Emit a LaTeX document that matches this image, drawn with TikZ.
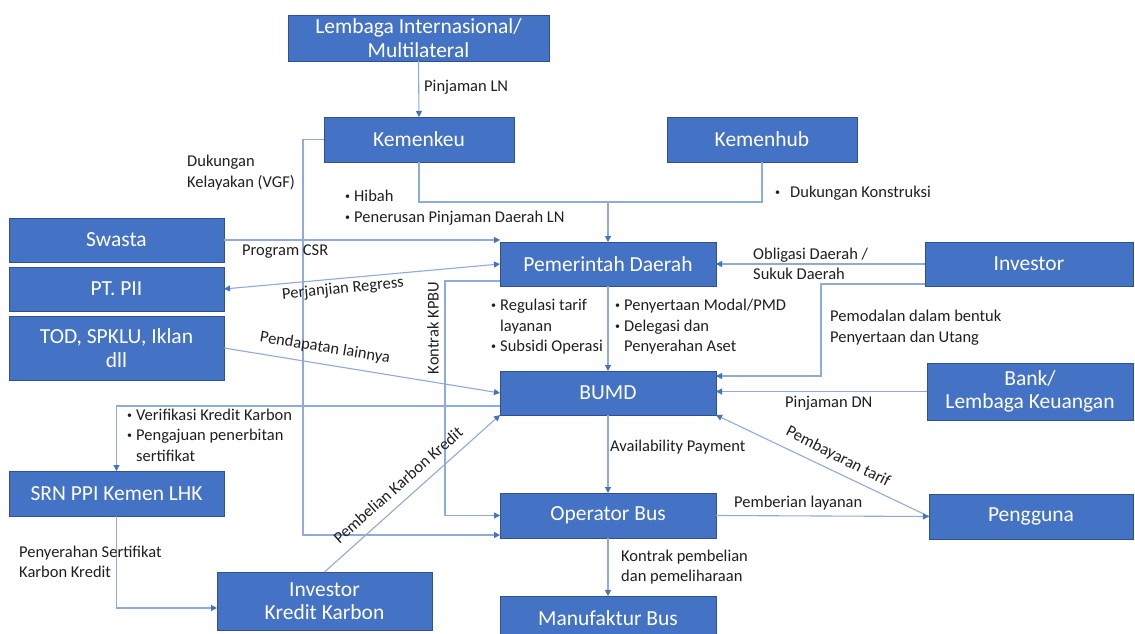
\documentclass[tikz,border=0pt]{standalone}
\usepackage{fontspec}
\setmainfont{Carlito}
\usetikzlibrary{arrows.meta,calc}
\definecolor{boxblue}{HTML}{4472C4}
\definecolor{boxedge}{HTML}{2F528F}
\definecolor{linkblue}{HTML}{8FAADC}
\definecolor{tipblue}{HTML}{4472C4}
% small bullet item and hanging indent for label lists
\newcommand{\smallbullet}{\raisebox{0.25ex}{\fontsize{10}{10}\selectfont\textbullet}}
\newcommand{\bul}{\makebox[9pt][l]{\smallbullet}}
\newcommand{\ind}{\hspace*{9pt}}

\begin{document}
\begin{tikzpicture}[x=1pt,y=-1pt,
  box/.style={draw=boxedge, line width=0.9pt, fill=boxblue, text=white,
    inner sep=0pt, outer sep=0pt, align=center,
    font=\fontsize{21.5}{23.5}\selectfont},
  conn/.style={draw=linkblue, line width=1.1pt,
    -{Triangle[length=6pt,width=6pt,color=tipblue]}},
  twoway/.style={draw=linkblue, line width=1.1pt,
    {Triangle[length=6pt,width=6pt,color=tipblue]}-{Triangle[length=6pt,width=6pt,color=tipblue]}},
  plain/.style={draw=linkblue, line width=1.1pt},
  lbl/.style={anchor=west, inner sep=0pt, align=left, text=black!88,
    font=\fontsize{16.5}{20.5}\selectfont}]
\useasboundingbox (0,0) rectangle (1135,634);
\fill[white] (0,0) rectangle (1135,634);
\begin{scope}
\clip (0,0) rectangle (1135,634);

% ---- boxes ----
\node[box, minimum width=261pt, minimum height=46pt] (lem) at (418.5,38) {Lembaga Internasional/\\Multilateral};
\node[box, minimum width=190pt, minimum height=45pt] (kku) at (419,139.5) {Kemenkeu};
\node[box, minimum width=190pt, minimum height=45pt] (khb) at (762,139.5) {Kemenhub};
\node[box, minimum width=215pt, minimum height=44pt] (swa) at (116.5,240) {Swasta};
\node[box, minimum width=215pt, minimum height=44pt] (pii) at (116.5,289) {PT. PII};
\node[box, minimum width=215pt, minimum height=64pt] (tod) at (116.5,348) {TOD, SPKLU, Iklan\\dll};
\node[box, minimum width=216pt, minimum height=44pt] (pem) at (608,264) {Pemerintah Daerah};
\node[box, minimum width=208pt, minimum height=44pt] (inv) at (1029,264) {Investor};
\node[box, minimum width=216pt, minimum height=44pt] (bumd) at (608,393) {BUMD};
\node[box, minimum width=206pt, minimum height=57pt] (bank) at (1030,391.5) {Bank/\\Lembaga Keuangan};
\node[box, minimum width=215pt, minimum height=45pt] (srn) at (116.5,493.5) {SRN PPI Kemen LHK};
\node[box, minimum width=215pt, minimum height=58pt] (ikk) at (324.5,601) {Investor\\Kredit Karbon};
\node[box, minimum width=216pt, minimum height=45pt] (opb) at (608,515.5) {Operator Bus};
\node[box, minimum width=216pt, minimum height=44pt] (mfb) at (608,618) {Manufaktur Bus};
\node[box, minimum width=204pt, minimum height=45pt] (pgg) at (1031,516.5) {Pengguna};

% ---- connectors ----
\coordinate (join) at (608,202);
\draw[conn] (lem.south) -- (kku.north);
\draw[plain] (kku.south) |- (join);
\draw[plain] (khb.south) |- (join);
\draw[conn] (join) -- (pem.north);
\draw[conn] (kku.west) -- ++(-21,0) |- ([yshift=-19.5pt]opb.west);
\draw[conn] (swa.east) -- (swa.east -| pem.west);
\draw[twoway] (pii.east) -- (pem.west);
\draw[conn] (tod.east) -- (bumd.west);
\draw[conn] ([yshift=-17pt]pem.west) -- ++(-55,0) |- (opb.west);
\draw[conn] (pem.south) -- (bumd.north);
\draw[conn] (inv.west) -- (pem.east);
\draw[conn] ([yshift=-20pt]inv.west) -- ++(-104,0) |- ([yshift=17pt]bumd.east);
\draw[conn] (bank.west) -- (bank.west -| bumd.east);
\draw[conn] (pgg.west) -- (bumd.south east);
\draw[conn] (bumd.south) -- (opb.north);
\draw[conn] (opb.east) -- (pgg.west);
\draw[conn] (opb.south) -- (mfb.north);
\draw[conn] ([yshift=-13pt]bumd.west) -| (srn.north);
\draw[conn] (srn.south) |- ([yshift=-7pt]ikk.west);
\draw[conn] (ikk.north) -- (bumd.south west);

% ---- labels ----
\node[lbl] at (424,87) {Pinjaman LN};
\node[lbl] at (187,172.5) {Dukungan\\Kelayakan (VGF)};
\node[lbl] at (345,207.5) {\bul Hibah\\\bul Penerusan Pinjaman Daerah LN};
\node[lbl] at (775,193) {\makebox[15pt][l]{\smallbullet}Dukungan Konstruksi};
\node[lbl] at (242,252) {Program CSR};
\node[lbl] at (753,264) {Obligasi Daerah /\\Sukuk Daerah};
\node[lbl, anchor=center, rotate=5.6] at (343,289) {Perjanjian Regress};
\node[lbl, anchor=center, rotate=-9.3] at (325,348) {Pendapatan lainnya};
\node[lbl, anchor=center, rotate=90] at (433,328) {Kontrak KPBU};
\node[lbl] at (491,327) {\bul Regulasi tarif\\\ind layanan\\\bul Subsidi Operasi};
\node[lbl] at (615,327) {\bul Penyertaan Modal/PMD\\\bul Delegasi dan\\\ind Penyerahan Aset};
\node[lbl] at (830,327.5) {Pemodalan dalam bentuk\\Penyertaan dan Utang};
\node[lbl] at (785,403) {Pinjaman DN};
\node[lbl] at (127,435) {\bul Verifikasi Kredit Karbon\\\bul Pengajuan penerbitan\\\ind sertifikat};
\node[lbl] at (610,447) {Availability Payment};
\node[lbl, anchor=center, rotate=-27] at (838,457) {Pembayaran tarif};
\node[lbl, anchor=center, rotate=41.5] at (398,485) {Pembelian Karbon Kredit};
\node[lbl] at (734,503) {Pemberian layanan};
\node[lbl] at (621,567) {Kontrak pembelian\\dan pemeliharaan};
\node[lbl] at (19,562) {Penyerahan Sertifikat\\Karbon Kredit};
\end{scope}
\end{tikzpicture}
\end{document}
